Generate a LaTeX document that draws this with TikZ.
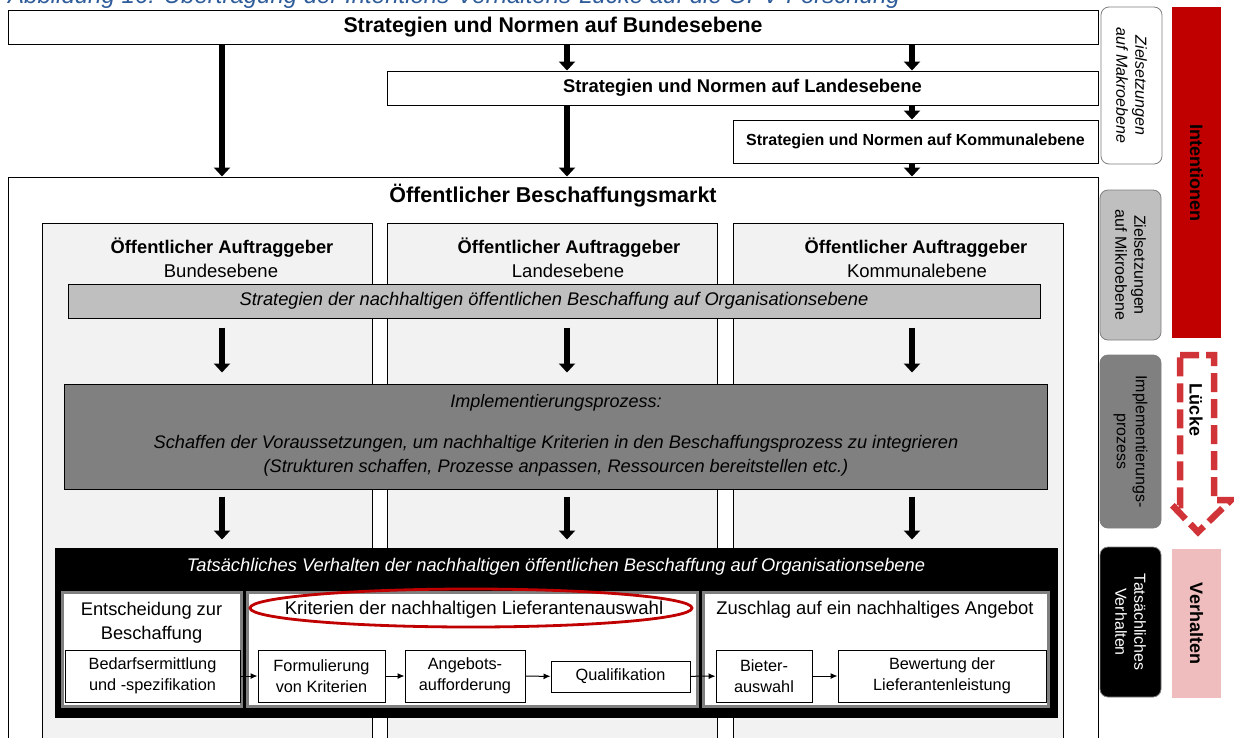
\documentclass[tikz,border=0pt]{standalone}
\usepackage{fontspec}
\setmainfont{Liberation Sans}
\usetikzlibrary{arrows.meta,shapes.geometric}
\definecolor{lgrey}{HTML}{F2F2F2}
\definecolor{mgrey}{HTML}{BFBFBF}
\definecolor{dgrey}{HTML}{808080}
\definecolor{bgrey}{HTML}{7F7F7F}
\definecolor{dred}{HTML}{C00000}
\definecolor{lred}{HTML}{D13438}
\definecolor{pink}{HTML}{EFBDBD}
\definecolor{capblue}{HTML}{2E5C9A}
\tikzset{
  box/.style={draw=black, line width=1pt, inner sep=0pt, align=center},
  grpbox/.style={draw=bgrey, line width=3pt, fill=white, inner sep=0pt},
  subbox/.style={draw=black, line width=1pt, fill=white, inner sep=0pt, align=center, font=\fontsize{16.3}{20.5}\selectfont},
  sidebox/.style={draw=bgrey, line width=0.8pt, rounded corners=8pt, inner sep=0pt, align=center, rotate=-90, font=\fontsize{16}{19}\selectfont},
  sidebar/.style={inner sep=0pt, rotate=-90, font=\bfseries\fontsize{18}{21}\selectfont},
  bigarrow/.style={line width=6.5pt, -{Triangle[width=16pt,length=9pt]}},
  smallarrow/.style={line width=1pt, -{Latex[length=7pt,width=6pt]}},
  colhead/.style={inner sep=0pt, align=center},
}
\begin{document}
\begin{tikzpicture}[x=1pt,y=-1pt]
\useasboundingbox (0,0) rectangle (1234,737);
\clip (0,0) rectangle (1234,737);
\fill[white] (0,0) rectangle (1234,737);
% caption (cut off at the top, as in the reference)
\node[anchor=base west, inner sep=0pt, text=capblue, font=\itshape\fontsize{24}{28}\selectfont] (caption) at (8,3) {Abbildung 16: Übertragung der Intentions-Verhaltens-Lücke auf die ÖPV-Forschung};
% column x positions
\coordinate (xa) at (222,0);
\coordinate (xb) at (567,0);
\coordinate (xc) at (912,0);
% top strategy boxes
\node[box, fill=white, minimum width=1090pt, minimum height=34pt, font=\bfseries\fontsize{21.3}{25}\selectfont] (bund) at (553,27) {Strategien und Normen auf Bundesebene};
\node[box, fill=white, minimum width=711pt, minimum height=34pt, font=\bfseries\fontsize{18.4}{22}\selectfont] (land) at (742.5,88) {Strategien und Normen auf Landesebene};
\node[box, fill=white, minimum width=365pt, minimum height=43pt, font=\bfseries\fontsize{16}{19}\selectfont] (komm) at (915.5,141.5) {Strategien und Normen auf Kommunalebene};
% market
\node[box, fill=white, minimum width=1090pt, minimum height=568pt] (markt) at (553,461) {};
\node[inner sep=0pt, font=\bfseries\fontsize{21.5}{25}\selectfont] (mtitle) at (553,196) {Öffentlicher Beschaffungsmarkt};
% columns
\node[box, fill=lgrey, minimum width=330pt, minimum height=522pt] (col1) at (207,484) {};
\node[box, fill=lgrey, minimum width=330pt, minimum height=522pt] (col2) at (552,484) {};
\node[box, fill=lgrey, minimum width=330pt, minimum height=522pt] (col3) at (898,484) {};
\node[colhead, font=\bfseries\fontsize{18.3}{22}\selectfont] (h1) at (222,248) {Öffentlicher Auftraggeber};
\node[colhead, font=\fontsize{18.5}{22}\selectfont] (s1) at (221,270.5) {Bundesebene};
\node[colhead, font=\bfseries\fontsize{18.3}{22}\selectfont] (h2) at (569,248) {Öffentlicher Auftraggeber};
\node[colhead, font=\fontsize{18.5}{22}\selectfont] (s2) at (568,270.5) {Landesebene};
\node[colhead, font=\bfseries\fontsize{18.3}{22}\selectfont] (h3) at (916,248) {Öffentlicher Auftraggeber};
\node[colhead, font=\fontsize{18.5}{22}\selectfont] (s3) at (917,270.5) {Kommunalebene};
% strategy bar
\node[box, fill=mgrey, minimum width=972pt, minimum height=34pt, font=\itshape\fontsize{18.3}{22}\selectfont] (strat) at (554,301) {Strategien der nachhaltigen öffentlichen Beschaffung auf Organisationsebene};
% implementation
\node[box, fill=dgrey, minimum width=983pt, minimum height=105pt] (impl) at (555.5,436.5) {};
\node[inner sep=0pt, font=\itshape\fontsize{18}{22}\selectfont] (impl1) at (556,403) {Implementierungsprozess:};
\node[inner sep=0pt, font=\itshape\fontsize{18.2}{22}\selectfont] (impl2) at (556,444) {Schaffen der Voraussetzungen, um nachhaltige Kriterien in den Beschaffungsprozess zu integrieren};
\node[inner sep=0pt, font=\itshape\fontsize{18.2}{22}\selectfont] (impl3) at (556,468) {(Strukturen schaffen, Prozesse anpassen, Ressourcen bereitstellen etc.)};
% behaviour box
\node[box, fill=black, minimum width=1002pt, minimum height=169pt] (verh) at (556,632.5) {};
\node[inner sep=0pt, text=white, font=\itshape\fontsize{18.3}{22}\selectfont] (vtitle) at (556,567) {Tatsächliches Verhalten der nachhaltigen öffentlichen Beschaffung auf Organisationsebene};
\node[grpbox, minimum width=179pt, minimum height=114pt] (ga) at (151.5,649) {};
\node[grpbox, minimum width=450pt, minimum height=114pt] (gb) at (472,649) {};
\node[grpbox, minimum width=345pt, minimum height=114pt] (gc) at (875.5,649) {};
\node[inner sep=0pt, align=center, font=\fontsize{18.3}{24}\selectfont] (ta) at (151.5,622.5) {Entscheidung zur\\Beschaffung};
\node[inner sep=0pt, font=\fontsize{18.6}{22}\selectfont] (tb) at (474,610) {Kriterien der nachhaltigen Lieferantenauswahl};
\node[inner sep=0pt, font=\fontsize{18.4}{22}\selectfont] (tc) at (875,610) {Zuschlag auf ein nachhaltiges Angebot};
\node[draw=dred, line width=2.8pt, ellipse, minimum width=442pt, minimum height=38pt, inner sep=0pt] (oval) at (471,608) {};
% sub boxes
\node[subbox, minimum width=175pt, minimum height=52pt] (bed) at (152.5,676) {Bedarfsermittlung\\und -spezifikation};
\node[subbox, minimum width=127pt, minimum height=52pt] (form) at (321.5,676) {Formulierung\\von Kriterien};
\node[subbox, minimum width=120pt, minimum height=52pt] (ang) at (465,676) {Angebots-\\aufforderung};
\node[subbox, minimum width=139pt, minimum height=31pt] (qual) at (620.5,676.5) {Qualifikation};
\node[subbox, minimum width=96pt, minimum height=52pt] (biet) at (764,676) {Bieter-\\auswahl};
\node[subbox, minimum width=208pt, minimum height=52pt] (bew) at (942,676) {Bewertung der\\Lieferantenleistung};
\draw[smallarrow] (bed) -- (form);
\draw[smallarrow] (form) -- (ang);
\draw[smallarrow] (ang) -- (qual);
\draw[smallarrow] (qual) -- (biet);
\draw[smallarrow] (biet) -- (bew);
% big arrows
\draw[bigarrow] (bund.south -| xa) -- (markt.north -| xa);
\draw[bigarrow] (bund.south -| xb) -- (land.north -| xb);
\draw[bigarrow] (bund.south -| xc) -- (land.north -| xc);
\draw[bigarrow] (land.south -| xb) -- (markt.north -| xb);
\draw[bigarrow] (land.south -| xc) -- (komm.north -| xc);
\draw[bigarrow] (komm.south -| xc) -- (markt.north -| xc);
\foreach \c in {xa,xb,xc}{
  \draw[bigarrow] ([yshift=-9pt]strat.south -| \c) -- ([yshift=11pt]impl.north -| \c);
  \draw[bigarrow] ([yshift=-7pt]impl.south -| \c) -- ([yshift=8pt]verh.north -| \c);
}
% right side
\node[sidebox, fill=white, minimum width=157pt, minimum height=61pt, font=\itshape\fontsize{16}{19}\selectfont] (makro) at (1131.5,85.5) {Zielsetzungen\\auf Makroebene};
\node[sidebox, fill=mgrey, minimum width=150pt, minimum height=61pt] (mikro) at (1130.5,265) {Zielsetzungen\\auf Mikroebene};
\node[sidebox, fill=dgrey, minimum width=173pt, minimum height=61pt] (implside) at (1130.5,441.5) {Implementierungs-\\prozess};
\node[sidebox, fill=black, text=white, minimum width=150pt, minimum height=61pt] (tats) at (1130.5,622) {Tatsächliches\\Verhalten};
\node[sidebar, fill=dred, minimum width=331pt, minimum height=49pt] (intent) at (1196.5,172.5) {Intentionen};
\node[sidebar, fill=pink, minimum width=149pt, minimum height=49pt] (verhbar) at (1196.5,623.5) {Verhalten};
\draw[lred, line width=6.5pt, dash pattern=on 19pt off 7pt] (1180,355) -- (1214,355) -- (1214,500) -- (1231,500) -- (1198,532) -- (1172,505) -- (1180,505) -- cycle;
\node[sidebar] (luecke) at (1196,410) {Lücke};
\end{tikzpicture}
\end{document}
